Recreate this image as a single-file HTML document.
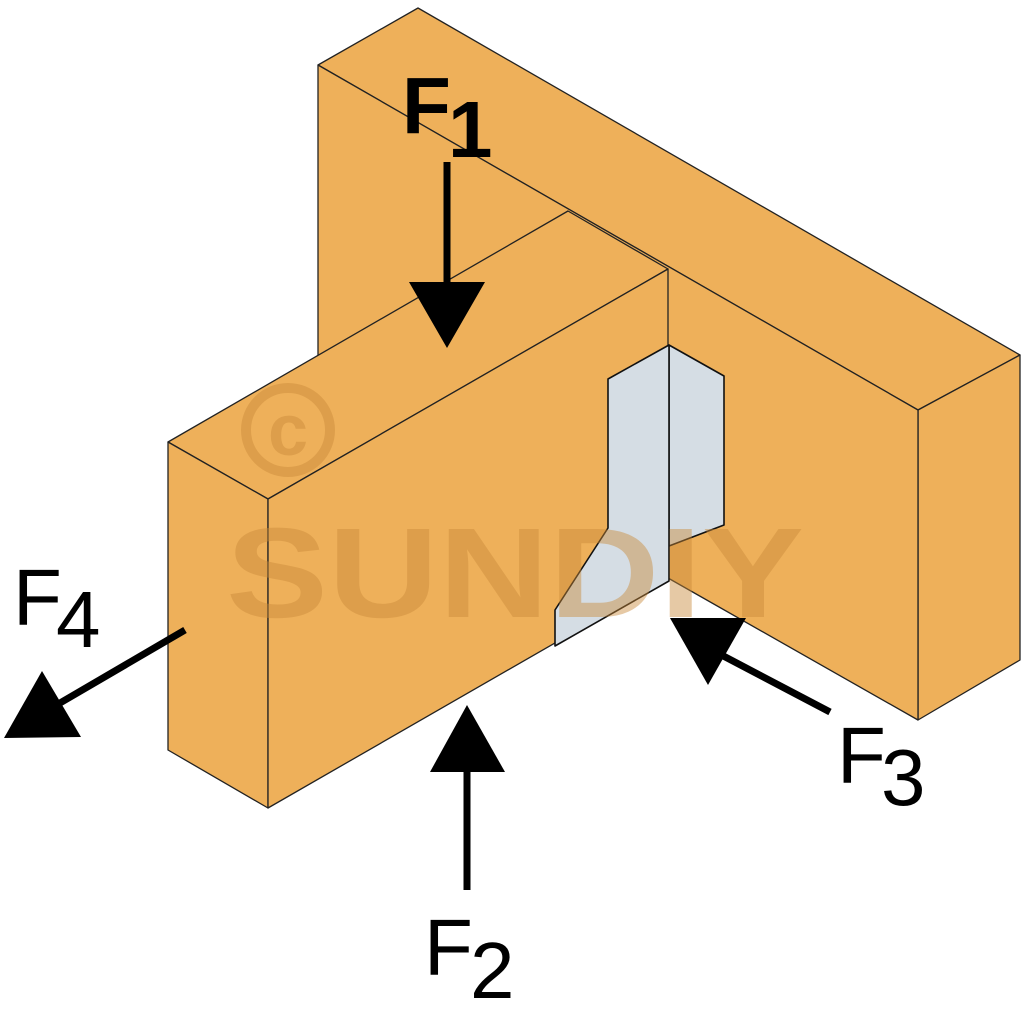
<!DOCTYPE html>
<html><head><style>html,body{margin:0;padding:0;background:#fff}svg{display:block}</style></head>
<body>
<svg width="1024" height="1024" viewBox="0 0 1024 1024" xmlns="http://www.w3.org/2000/svg" font-family="Liberation Sans, sans-serif">
<g stroke="#222" stroke-width="1.3" fill="#EEB05A" stroke-linejoin="round">
  <!-- header -->
  <polygon points="318,65 418,8 1020,355 918,410"/>
  <polygon points="918,410 1020,355 1020,660 918,720"/>
  <polygon points="318,65 918,410 918,720 668,578 318,360"/>
  <!-- joist -->
  <polygon points="168,442 568,211 668,269 268,499"/>
  <polygon points="168,442 268,499 268,808 168,750"/>
  <polygon points="268,499 668,269 668,578 268,808"/>
</g>
<!-- hanger -->
<g stroke="#111" stroke-width="1.6" fill="#D5DDE4" stroke-linejoin="round">
  <polygon points="669,345 724,376 724,525 669,546"/>
  <polygon points="669,345 608,379 608,528 555,610 555,646 669,581"/>
</g>
<!-- watermark -->
<g fill="#C98A3A" opacity="0.45">
  <circle cx="288" cy="430" r="42" fill="none" stroke="#C98A3A" stroke-width="10"/>
  <text x="288" y="455" font-size="72" font-weight="bold" text-anchor="middle">c</text>
  <text x="226" y="617" font-size="128" font-weight="bold" textLength="578" lengthAdjust="spacingAndGlyphs">SUNDIY</text>
</g>
<!-- arrows -->
<g stroke="#000" stroke-width="7" fill="none">
  <line x1="447" y1="162" x2="447" y2="285"/>
  <line x1="467" y1="890" x2="467" y2="770"/>
  <line x1="830" y1="712" x2="712" y2="650"/>
  <line x1="185" y1="630" x2="60" y2="703"/>
</g>
<g fill="#000">
  <polygon points="409,282 485,282 447,348"/>
  <polygon points="430,772 505,772 467,705"/>
  <polygon points="670,618 746,618 708,685"/>
  <polygon points="4,738 42,671 81,737"/>
</g>
<g fill="#000" font-size="80">
  <text x="402" y="133" font-weight="bold">F</text><text x="448" y="157" font-weight="bold">1</text>
  <text x="424" y="975">F</text><text x="470" y="998">2</text>
  <text x="837" y="783">F</text><text x="881" y="805">3</text>
  <text x="13" y="625">F</text><text x="56" y="647">4</text>
</g>
</svg>
</body></html>
